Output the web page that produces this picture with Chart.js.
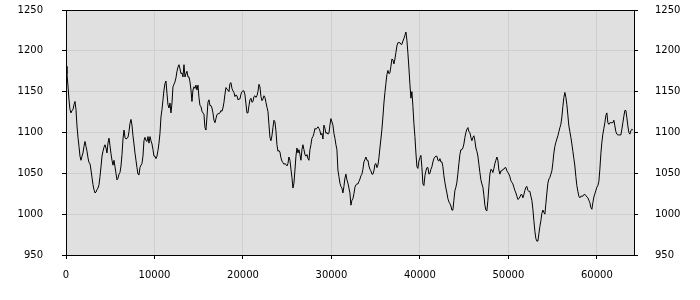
<!DOCTYPE html>
<html>
<head>
<meta charset="utf-8">
<script src="https://cdn.jsdelivr.net/npm/chart.js@4.4.1/dist/chart.umd.min.js"></script>
<style>
  html, body { margin: 0; padding: 0; background: #fff; }
  #wrap { width: 700px; height: 300px; }
</style>
</head>
<body>
<div id="wrap"><canvas id="lineChart"></canvas></div>
<script>
// one sample per step along the x axis
var xStep = 113;
var values = [
  1181,1172,1157,1140,1128,1124,1127,1128,1134,1138,
  1128,1108,1094,1083,1071,1066,1071,1075,1083,1089,
  1083,1077,1069,1063,1062,1054,1045,1036,1030,1026,
  1027,1030,1032,1036,1046,1058,1071,1077,1082,1085,
  1081,1075,1087,1093,1084,1074,1066,1060,1066,1058,
  1050,1042,1044,1049,1051,1059,1073,1092,1103,1094,
  1092,1093,1094,1101,1111,1116,1109,1096,1086,1075,
  1066,1057,1049,1048,1057,1060,1062,1071,1090,1094,
  1090,1089,1095,1087,1095,1090,1086,1079,1071,1071,
  1068,1071,1078,1087,1099,1119,1128,1140,1152,1160,
  1163,1148,1134,1130,1136,1124,1136,1156,1159,1162,
  1167,1175,1180,1183,1178,1172,1173,1168,1183,1168,
  1172,1175,1168,1168,1162,1152,1138,1152,1156,1154,
  1158,1152,1158,1143,1133,1132,1126,1124,1122,1106,
  1103,1119,1137,
  1140,1133,1133,1130,1124,1115,1112,1117,1122,1123,
  1123,1124,1127,1126,1130,1137,1147,1155,1153,1152,
  1150,1160,1161,1154,1151,1149,1144,1146,1145,1140,
  1141,1141,1147,1150,1151,1151,1146,1135,1124,1124,
  1133,1140,1142,1137,1138,1144,1145,1143,1145,1150,
  1159,1156,1144,1139,1141,1145,1143,1137,1131,1126,
  1110,1094,1090,1096,1106,1115,1113,1102,1085,1077,
  1078,1076,1069,1065,1063,1061,1062,1061,1059,1062,
  1070,1066,1055,1045,1032,1038,1054,1071,1081,1075,
  1079,1073,1066,1079,1085,1079,1073,1071,1073,1068,
  1066,1079,1085,1093,1095,1099,1105,1104,1105,1107,
  1105,1102,1097,1099,1092,1109,1105,1099,1100,1098,
  1099,1109,1117,1113,1109,1099,1093,1085,1079,1054,
  1046,1038,1034,1032,1026,1034,1044,1049,1042,1038,
  1032,1026,1011,1017,1019,
  1025,1033,1036,1037,1037,1040,1043,1047,1049,1055,
  1064,1067,1070,1066,1066,1059,1055,1053,1049,1049,
  1053,1061,1062,1057,1060,1069,1081,1092,1104,1119,
  1136,1149,1160,1171,1176,1172,1173,1181,1190,1189,
  1184,1190,1198,1206,1210,1210,1210,1208,1208,1212,
  1215,1219,1223,1213,1197,1179,1159,1142,1150,1132,
  1111,1095,1075,1058,1056,1065,1069,1072,1057,1037,
  1035,1047,1053,1057,1057,1049,1050,1055,1058,1064,
  1068,1070,1071,1071,1066,1065,1068,1064,1064,1058,
  1047,1039,1032,1026,1019,1015,1013,1010,1005,1005,
  1017,1029,1033,1039,1050,1062,1073,1079,1079,1081,
  1086,1094,1100,1104,1106,1101,1100,1094,1090,1094,
  1096,1090,1081,1077,1071,1061,1051,1042,1037,1033,
  1023,1011,1005,1004,1017,1034,1049,1055,1054,1051,
  1056,1062,1066,1070,
  1066,1054,1049,1053,1053,1055,1055,1057,1057,1053,
  1051,1049,1046,1041,1039,1037,1033,1029,1026,1022,
  1018,1019,1021,1024,1024,1020,1024,1029,1033,1034,
  1029,1028,1028,1022,1017,1006,992,979,970,967,
  967,976,985,992,1001,1005,1002,1000,1013,1026,
  1038,1043,1045,1049,1053,1063,1075,1083,1088,1092,
  1096,1101,1106,1110,1119,1132,1143,1149,1143,1134,
  1121,1108,1101,1094,1086,1077,1068,1059,1046,1035,
  1028,1022,1020,1022,1022,1022,1024,1024,1023,1021,
  1020,1017,1014,1008,1006,1014,1021,1025,1029,1033,
  1035,1040,1055,1074,1088,1098,1105,1112,1121,1124,
  1112,1110,1112,1112,1112,1112,1115,1108,1101,1098,
  1097,1097,1097,1097,1104,1112,1120,1127,1127,1118,
  1108,1100,1098,1102,1104,1103
];
var xTicks = [0, 10000, 20000, 30000, 40000, 50000, 60000];
var yTicks = [950, 1000, 1050, 1100, 1150, 1200, 1250];
var xMax = 64200;

var points = values.map(function (v, i) { return { x: i * xStep, y: v }; });

// grey plot area and black frame
var plotFrame = {
  id: 'plotFrame',
  beforeDraw: function (chart) {
    var a = chart.chartArea, c = chart.ctx;
    c.save();
    c.fillStyle = '#e0e0e0';
    c.fillRect(a.left, a.top, a.right - a.left, a.bottom - a.top);
    c.restore();
  },
  afterDraw: function (chart) {
    var a = chart.chartArea, c = chart.ctx;
    c.save();
    c.strokeStyle = '#000';
    c.lineWidth = 1;
    c.strokeRect(a.left + 0.5, a.top + 0.5, a.right - a.left, a.bottom - a.top);
    c.restore();
  }
};

var tickFont = { family: 'DejaVu Sans', size: 10 };
function setTicks(list) {
  return function (scale) { scale.ticks = list.map(function (v) { return { value: v }; }); };
}
function fixWidth(w) {
  return function (s) {
    s.width = w;
    s.paddingTop = 0;
    s.paddingBottom = 0;
  };
}

var ctx = document.getElementById('lineChart').getContext('2d');
var lineChart = new Chart(ctx, {
  type: 'line',
  data: {
    datasets: [{
      data: points,
      borderColor: '#000',
      borderWidth: 1,
      pointRadius: 0,
      tension: 0,
      fill: false
    }]
  },
  options: {
    responsive: true,
    maintainAspectRatio: false,
    animation: false,
    devicePixelRatio: 1,
    layout: { padding: { top: 10, left: 0, right: 0, bottom: 0 } },
    plugins: { legend: { display: false }, tooltip: { enabled: false } },
    scales: {
      x: {
        type: 'linear',
        min: 0,
        max: xMax,
        afterBuildTicks: setTicks(xTicks),
        afterFit: function (s) { s.height = 45; s.paddingLeft = 0; s.paddingRight = 0; },
        grid: { color: '#cfcfcf', tickColor: '#000', tickLength: 4 },
        border: { color: '#000' },
        ticks: { color: '#000', font: tickFont, padding: 10, maxRotation: 0,
                 callback: function (v) { return String(v); } }
      },
      y: {
        position: 'left',
        min: 950,
        max: 1250,
        afterBuildTicks: setTicks(yTicks),
        afterFit: fixWidth(66),
        grid: { color: '#cfcfcf', tickColor: '#000', tickLength: 4 },
        border: { color: '#000' },
        ticks: { color: '#000', font: tickFont, padding: 19,
                 callback: function (v) { return String(v); } }
      },
      y2: {
        position: 'right',
        min: 950,
        max: 1250,
        afterBuildTicks: setTicks(yTicks),
        afterFit: fixWidth(66),
        grid: { drawOnChartArea: false, tickColor: '#000', tickLength: 4 },
        border: { color: '#000' },
        ticks: { color: '#000', font: tickFont, padding: 17,
                 callback: function (v) { return String(v); } }
      }
    }
  },
  plugins: [plotFrame]
});
</script>
</body>
</html>
